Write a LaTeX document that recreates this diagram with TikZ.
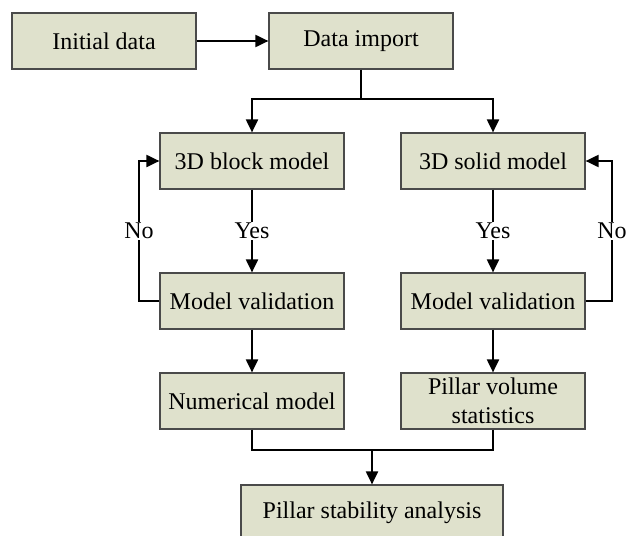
\documentclass[tikz,border=0pt]{standalone}
\usepackage{fontspec}
\setmainfont{Liberation Serif}
\usetikzlibrary{arrows.meta}
\definecolor{boxfill}{HTML}{DFE1CC}
\definecolor{boxline}{HTML}{4A4A4A}
\begin{document}
\begin{tikzpicture}[x=1pt,y=-1pt,
  box/.style={draw=boxline,fill=boxfill,line width=1.2pt,minimum width=184pt,minimum height=56pt,inner sep=0pt,align=center,font=\fontsize{24}{29}\selectfont},
  conn/.style={line width=2pt,black},
  arr/.style={conn,-{Triangle[length=13pt,width=12pt]}},
  lbl/.style={fill=white,inner sep=1pt,font=\fontsize{24}{29}\selectfont}]
\useasboundingbox (0,0) rectangle (628,535);
\clip (0,0) rectangle (628,535);
\node[box] (init) at (104,41) {Initial data};
\node[box] (imp) at (361,41) {Data import};
\node[box] (b1) at (252,161) {3D block model};
\node[box] (s1) at (493,161) {3D solid model};
\node[box] (mv1) at (252,301) {Model validation};
\node[box] (mv2) at (493,301) {Model validation};
\node[box] (num) at (252,401) {Numerical model};
\node[box] (pvs) at (493,401) {Pillar volume\\statistics};
\node[box,minimum width=262pt] (psa) at (372,513) {Pillar stability analysis};
\coordinate (split) at (361,99);
\coordinate (merge) at (372,450);
\coordinate (lx) at (139,0);
\coordinate (rx) at (612,0);
\draw[arr] (init) -- (imp);
\draw[conn] (imp.south) -- (split);
\draw[arr] (split) -| (b1.north);
\draw[arr] (split) -| (s1.north);
\draw[arr] (b1.south) -- node[lbl] {Yes} (mv1.north);
\draw[arr] (s1.south) -- node[lbl] {Yes} (mv2.north);
\draw[arr] (mv1.west) -- (lx |- mv1.west) -- node[lbl,pos=0.5] {No} (lx |- b1.west) -- (b1.west);
\draw[arr] (mv2.east) -- (rx |- mv2.east) -- node[lbl,pos=0.5] {No} (rx |- s1.east) -- (s1.east);
\draw[arr] (mv1) -- (num);
\draw[arr] (mv2) -- (pvs);
\draw[conn] (num.south) |- (merge);
\draw[conn] (pvs.south) |- (merge);
\draw[arr] (merge) -- (psa.north);
\end{tikzpicture}
\end{document}
